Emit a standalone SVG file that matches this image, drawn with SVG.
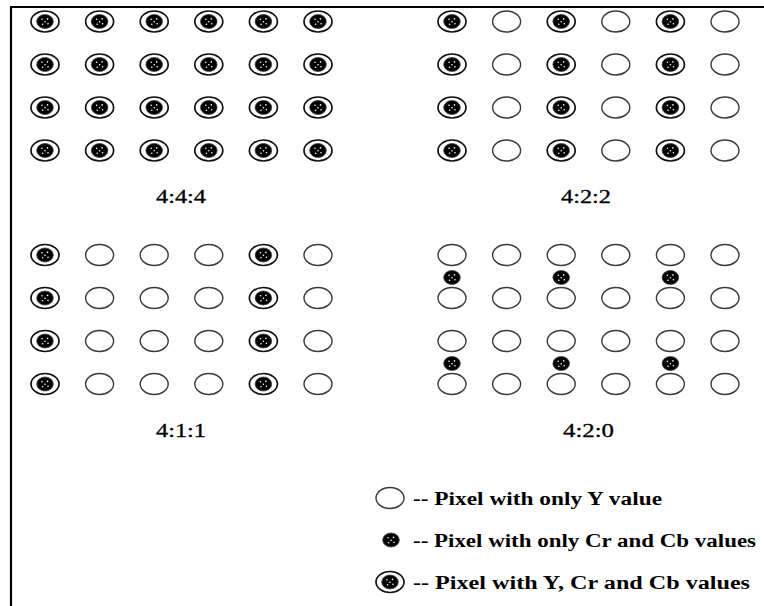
<svg xmlns="http://www.w3.org/2000/svg" width="764" height="606" viewBox="0 0 764 606">
<style>
.open{fill:#fff;stroke:#3a3a3a;stroke-width:1.4}
.ring{fill:#fff;stroke:#111;stroke-width:1.7}
.blob{fill:#000;stroke:#444;stroke-width:0.8}
.speck{fill:#fff}
.lbl{font-family:"Liberation Serif","Times New Roman",serif;font-size:19px;fill:#000;stroke:#000;stroke-width:0.3}
.leg{font-family:"Liberation Serif","Times New Roman",serif;font-weight:bold;font-size:18px;fill:#000}
.frame{stroke:#000;stroke-width:2.2;fill:none}
</style>
<defs>
<ellipse id="y" class="open" cx="0" cy="0" rx="14" ry="10.5"/>
<g id="c">
<ellipse class="blob" cx="0" cy="0" rx="8.3" ry="7"/>
<circle class="speck" cx="-3" cy="-2.2" r="0.8"/>
<circle class="speck" cx="2.5" cy="-2.6" r="0.8"/>
<circle class="speck" cx="0" cy="0.2" r="0.8"/>
<circle class="speck" cx="-2.4" cy="2.8" r="0.8"/>
<circle class="speck" cx="3" cy="2.3" r="0.8"/>
</g>
<g id="ycc">
<ellipse class="ring" cx="0" cy="0" rx="14" ry="10.5"/>
<use href="#c"/>
</g>
</defs>
<rect width="764" height="606" fill="#fff"/>
<g id="frame">
<line class="frame" x1="10" y1="7" x2="764" y2="7"/>
<line class="frame" x1="11" y1="6" x2="11" y2="606"/>
</g>
<g id="connectors"/>

<!-- 4:4:4 -->
<g id="g444">
<g id="a11"><use href="#ycc" x="45" y="21.5"/></g>
<g id="a12"><use href="#ycc" x="99.6" y="21.5"/></g>
<g id="a13"><use href="#ycc" x="154.2" y="21.5"/></g>
<g id="a14"><use href="#ycc" x="208.8" y="21.5"/></g>
<g id="a15"><use href="#ycc" x="263.4" y="21.5"/></g>
<g id="a16"><use href="#ycc" x="318" y="21.5"/></g>
<g id="a21"><use href="#ycc" x="45" y="64.5"/></g>
<g id="a22"><use href="#ycc" x="99.6" y="64.5"/></g>
<g id="a23"><use href="#ycc" x="154.2" y="64.5"/></g>
<g id="a24"><use href="#ycc" x="208.8" y="64.5"/></g>
<g id="a25"><use href="#ycc" x="263.4" y="64.5"/></g>
<g id="a26"><use href="#ycc" x="318" y="64.5"/></g>
<g id="a31"><use href="#ycc" x="45" y="107.5"/></g>
<g id="a32"><use href="#ycc" x="99.6" y="107.5"/></g>
<g id="a33"><use href="#ycc" x="154.2" y="107.5"/></g>
<g id="a34"><use href="#ycc" x="208.8" y="107.5"/></g>
<g id="a35"><use href="#ycc" x="263.4" y="107.5"/></g>
<g id="a36"><use href="#ycc" x="318" y="107.5"/></g>
<g id="a41"><use href="#ycc" x="45" y="150.5"/></g>
<g id="a42"><use href="#ycc" x="99.6" y="150.5"/></g>
<g id="a43"><use href="#ycc" x="154.2" y="150.5"/></g>
<g id="a44"><use href="#ycc" x="208.8" y="150.5"/></g>
<g id="a45"><use href="#ycc" x="263.4" y="150.5"/></g>
<g id="a46"><use href="#ycc" x="318" y="150.5"/></g>
<text id="t444" class="lbl" x="156" y="203" textLength="50" lengthAdjust="spacingAndGlyphs">4:4:4</text>
</g>

<!-- 4:2:2 -->
<g id="g422">
<g id="b11"><use href="#ycc" x="452" y="21.5"/></g>
<g id="b12"><use href="#y" x="506.6" y="21.5"/></g>
<g id="b13"><use href="#ycc" x="561.2" y="21.5"/></g>
<g id="b14"><use href="#y" x="615.8" y="21.5"/></g>
<g id="b15"><use href="#ycc" x="670.4" y="21.5"/></g>
<g id="b16"><use href="#y" x="725" y="21.5"/></g>
<g id="b21"><use href="#ycc" x="452" y="64.5"/></g>
<g id="b22"><use href="#y" x="506.6" y="64.5"/></g>
<g id="b23"><use href="#ycc" x="561.2" y="64.5"/></g>
<g id="b24"><use href="#y" x="615.8" y="64.5"/></g>
<g id="b25"><use href="#ycc" x="670.4" y="64.5"/></g>
<g id="b26"><use href="#y" x="725" y="64.5"/></g>
<g id="b31"><use href="#ycc" x="452" y="107.5"/></g>
<g id="b32"><use href="#y" x="506.6" y="107.5"/></g>
<g id="b33"><use href="#ycc" x="561.2" y="107.5"/></g>
<g id="b34"><use href="#y" x="615.8" y="107.5"/></g>
<g id="b35"><use href="#ycc" x="670.4" y="107.5"/></g>
<g id="b36"><use href="#y" x="725" y="107.5"/></g>
<g id="b41"><use href="#ycc" x="452" y="150.5"/></g>
<g id="b42"><use href="#y" x="506.6" y="150.5"/></g>
<g id="b43"><use href="#ycc" x="561.2" y="150.5"/></g>
<g id="b44"><use href="#y" x="615.8" y="150.5"/></g>
<g id="b45"><use href="#ycc" x="670.4" y="150.5"/></g>
<g id="b46"><use href="#y" x="725" y="150.5"/></g>
<text id="t422" class="lbl" x="561" y="203" textLength="50" lengthAdjust="spacingAndGlyphs">4:2:2</text>
</g>

<!-- 4:1:1 -->
<g id="g411">
<g id="c11"><use href="#ycc" x="45" y="255"/></g>
<g id="c12"><use href="#y" x="99.6" y="255"/></g>
<g id="c13"><use href="#y" x="154.2" y="255"/></g>
<g id="c14"><use href="#y" x="208.8" y="255"/></g>
<g id="c15"><use href="#ycc" x="263.4" y="255"/></g>
<g id="c16"><use href="#y" x="318" y="255"/></g>
<g id="c21"><use href="#ycc" x="45" y="298"/></g>
<g id="c22"><use href="#y" x="99.6" y="298"/></g>
<g id="c23"><use href="#y" x="154.2" y="298"/></g>
<g id="c24"><use href="#y" x="208.8" y="298"/></g>
<g id="c25"><use href="#ycc" x="263.4" y="298"/></g>
<g id="c26"><use href="#y" x="318" y="298"/></g>
<g id="c31"><use href="#ycc" x="45" y="341"/></g>
<g id="c32"><use href="#y" x="99.6" y="341"/></g>
<g id="c33"><use href="#y" x="154.2" y="341"/></g>
<g id="c34"><use href="#y" x="208.8" y="341"/></g>
<g id="c35"><use href="#ycc" x="263.4" y="341"/></g>
<g id="c36"><use href="#y" x="318" y="341"/></g>
<g id="c41"><use href="#ycc" x="45" y="384"/></g>
<g id="c42"><use href="#y" x="99.6" y="384"/></g>
<g id="c43"><use href="#y" x="154.2" y="384"/></g>
<g id="c44"><use href="#y" x="208.8" y="384"/></g>
<g id="c45"><use href="#ycc" x="263.4" y="384"/></g>
<g id="c46"><use href="#y" x="318" y="384"/></g>
<text id="t411" class="lbl" x="156" y="437" textLength="50" lengthAdjust="spacingAndGlyphs">4:1:1</text>
</g>

<!-- 4:2:0 -->
<g id="g420">
<g id="d11"><use href="#y" x="452" y="255"/></g>
<g id="d12"><use href="#y" x="506.6" y="255"/></g>
<g id="d13"><use href="#y" x="561.2" y="255"/></g>
<g id="d14"><use href="#y" x="615.8" y="255"/></g>
<g id="d15"><use href="#y" x="670.4" y="255"/></g>
<g id="d16"><use href="#y" x="725" y="255"/></g>
<g id="d21"><use href="#y" x="452" y="298"/></g>
<g id="d22"><use href="#y" x="506.6" y="298"/></g>
<g id="d23"><use href="#y" x="561.2" y="298"/></g>
<g id="d24"><use href="#y" x="615.8" y="298"/></g>
<g id="d25"><use href="#y" x="670.4" y="298"/></g>
<g id="d26"><use href="#y" x="725" y="298"/></g>
<g id="d31"><use href="#y" x="452" y="341"/></g>
<g id="d32"><use href="#y" x="506.6" y="341"/></g>
<g id="d33"><use href="#y" x="561.2" y="341"/></g>
<g id="d34"><use href="#y" x="615.8" y="341"/></g>
<g id="d35"><use href="#y" x="670.4" y="341"/></g>
<g id="d36"><use href="#y" x="725" y="341"/></g>
<g id="d41"><use href="#y" x="452" y="384"/></g>
<g id="d42"><use href="#y" x="506.6" y="384"/></g>
<g id="d43"><use href="#y" x="561.2" y="384"/></g>
<g id="d44"><use href="#y" x="615.8" y="384"/></g>
<g id="d45"><use href="#y" x="670.4" y="384"/></g>
<g id="d46"><use href="#y" x="725" y="384"/></g>
<g id="e11"><use href="#c" x="452" y="277.5"/></g>
<g id="e12"><use href="#c" x="561.2" y="277.5"/></g>
<g id="e13"><use href="#c" x="670.4" y="277.5"/></g>
<g id="e21"><use href="#c" x="452" y="363.5"/></g>
<g id="e22"><use href="#c" x="561.2" y="363.5"/></g>
<g id="e23"><use href="#c" x="670.4" y="363.5"/></g>
<text id="t420" class="lbl" x="563" y="437" textLength="51" lengthAdjust="spacingAndGlyphs">4:2:0</text>
</g>

<!-- legend -->
<g id="legend">
<g id="leg-y">
<use href="#y" x="390" y="498"/>
<text class="leg" x="413" y="505" textLength="249" lengthAdjust="spacingAndGlyphs">-- Pixel with only Y value</text>
</g>
<g id="leg-c">
<use href="#c" x="391" y="540"/>
<text class="leg" x="413" y="547" textLength="343" lengthAdjust="spacingAndGlyphs">-- Pixel with only Cr and Cb values</text>
</g>
<g id="leg-ycc">
<use href="#ycc" x="390" y="582"/>
<text class="leg" x="413" y="589" textLength="337" lengthAdjust="spacingAndGlyphs">-- Pixel with Y, Cr and Cb values</text>
</g>
</g>
</svg>
